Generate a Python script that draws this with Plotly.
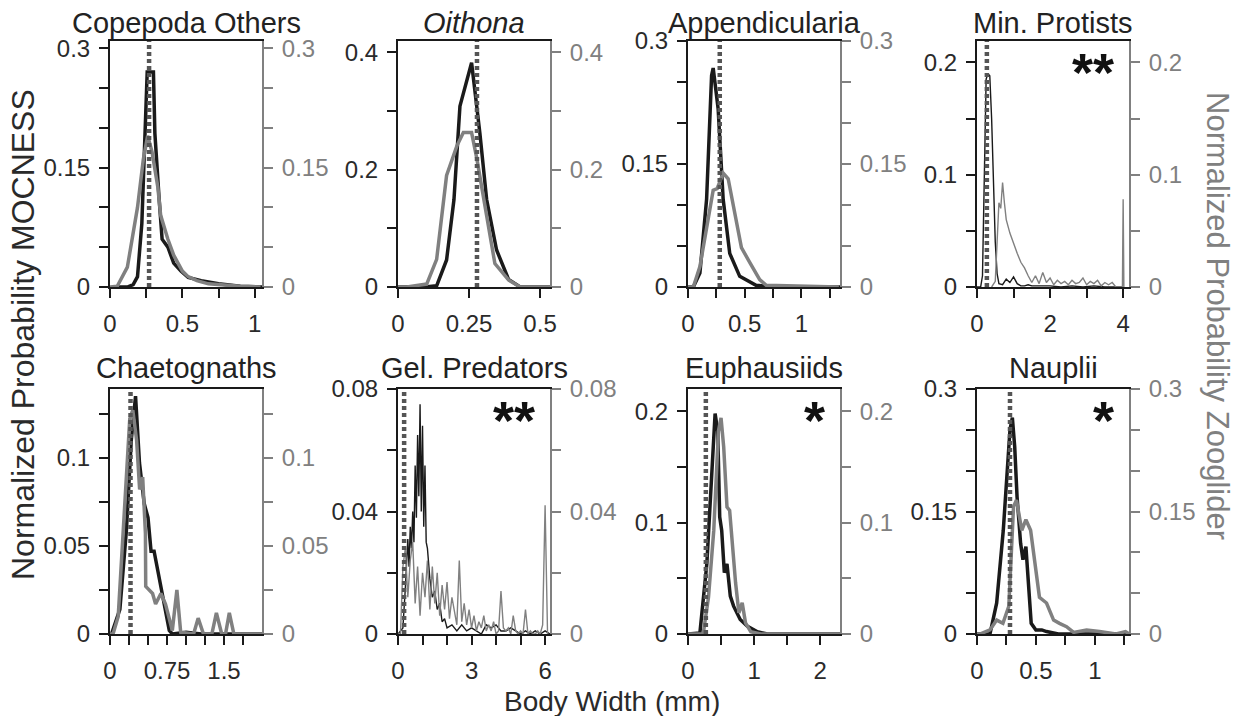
import plotly.graph_objects as go

W, H = 1234, 716
FONT = "Liberation Sans, Arial, sans-serif"
BLACK = "#1a1a1a"
GRAY = "#808080"
DOT = "#555555"

# ---- panel meta ----
titles = ["Copepoda Others", "<i>Oithona</i>", "Appendicularia", "Min. Protists",
          "Chaetognaths", "Gel. Predators", "Euphausiids", "Nauplii"]
stars = ["", "", "", "**", "", "**", "*", "*"]
medians = [0.27, 0.278, 0.28, 0.27, 0.27, 0.25, 0.27, 0.28]
x_max = [1.05, 0.535, 1.34, 4.16, 2.0, 6.2, 2.3, 1.29]
y_max = [0.309, 0.419, 0.3, 0.219, 0.139, 0.08, 0.22, 0.3]
thin = [False, False, False, True, False, True, False, False]

x_tickvals = [[0, 0.25, 0.5, 0.75, 1], [0, 0.25, 0.5], [0, 0.25, 0.5, 0.75, 1, 1.25], [0, 1, 2, 3, 4],
              [0, 0.25, 0.5, 0.75, 1, 1.25, 1.5, 1.75], [0, 1, 2, 3, 4, 5, 6], [0, 0.5, 1, 1.5, 2],
              [0, 0.25, 0.5, 0.75, 1, 1.25]]
x_ticktext = [["0", "", "0.5", "", "1"], ["0", "0.25", "0.5"], ["0", "", "0.5", "", "1", ""], ["0", "", "2", "", "4"],
              ["0", "", "", "0.75", "", "", "1.5", ""], ["0", "", "", "3", "", "", "6"], ["0", "", "1", "", "2"],
              ["0", "", "0.5", "", "1", ""]]
y_tickvals = [[0, 0.05, 0.1, 0.15, 0.2, 0.25, 0.3], [0, 0.1, 0.2, 0.3, 0.4], [0, 0.05, 0.1, 0.15, 0.2, 0.25, 0.3],
              [0, 0.05, 0.1, 0.15, 0.2], [0, 0.025, 0.05, 0.075, 0.1, 0.125], [0, 0.02, 0.04, 0.06, 0.08],
              [0, 0.05, 0.1, 0.15, 0.2], [0, 0.05, 0.1, 0.15, 0.2, 0.25, 0.3]]
y_ticktext = [["0", "", "", "0.15", "", "", "0.3"], ["0", "", "0.2", "", "0.4"], ["0", "", "", "0.15", "", "", "0.3"],
              ["0", "", "0.1", "", "0.2"], ["0", "", "0.05", "", "0.1", ""], ["0", "", "0.04", "", "0.08"],
              ["0", "", "0.1", "", "0.2"], ["0", "", "", "0.15", "", "", "0.3"]]

# ---- series: MOCNESS (black, left axis) and Zooglider (gray, right axis) ----
cope_x_moc = [0.05, 0.12, 0.16, 0.19, 0.22, 0.245, 0.257, 0.3, 0.31, 0.34, 0.36, 0.4, 0.44, 0.49, 0.54, 0.63, 0.75, 0.9, 1.05]
cope_moc = [0, 0, 0.003, 0.013, 0.08, 0.23, 0.27, 0.27, 0.193, 0.109, 0.06, 0.05, 0.03, 0.02, 0.012, 0.008, 0.004, 0.001, 0]
cope_x_zoo = [0.0, 0.05, 0.12, 0.19, 0.23, 0.26, 0.29, 0.33, 0.35, 0.4, 0.44, 0.5, 0.54, 0.6, 0.68, 0.8, 0.9, 1.04]
cope_zoo = [0, 0.001, 0.025, 0.10, 0.16, 0.19, 0.17, 0.126, 0.09, 0.06, 0.04, 0.02, 0.013, 0.008, 0.004, 0.002, 0.001, 0]

oith_x_moc = [0.0, 0.095, 0.136, 0.171, 0.197, 0.218, 0.259, 0.288, 0.312, 0.347, 0.389, 0.43, 0.535]
oith_moc = [0, 0, 0.002, 0.046, 0.149, 0.308, 0.382, 0.263, 0.149, 0.063, 0.013, 0, 0]
oith_x_zoo = [0.0, 0.031, 0.101, 0.136, 0.171, 0.207, 0.23, 0.259, 0.277, 0.306, 0.341, 0.389, 0.43, 0.535]
oith_zoo = [0, 0, 0.005, 0.047, 0.19, 0.24, 0.263, 0.263, 0.22, 0.135, 0.04, 0.012, 0, 0]

app_x_moc = [0.0, 0.047, 0.105, 0.164, 0.208, 0.222, 0.266, 0.31, 0.368, 0.456, 0.6, 0.75, 1.34]
app_moc = [0, 0, 0.017, 0.107, 0.258, 0.267, 0.217, 0.107, 0.041, 0.013, 0.002, 0, 0]
app_x_zoo = [0.0, 0.047, 0.105, 0.178, 0.222, 0.257, 0.31, 0.354, 0.427, 0.471, 0.544, 0.632, 0.69, 1.0, 1.33]
app_zoo = [0, 0, 0.025, 0.086, 0.118, 0.12, 0.139, 0.132, 0.082, 0.048, 0.03, 0.009, 0.002, 0.001, 0]

prot_x_moc = [0, 0.1, 0.15, 0.2, 0.25, 0.3, 0.35, 0.4, 0.45, 0.5, 0.55, 0.6, 0.7, 0.8, 0.9, 1.0, 1.1, 1.2,
              1.3, 1.4, 1.5, 1.7, 2.0, 2.3, 2.6, 2.9, 3.2, 3.5, 3.8, 4.0]
prot_moc = [0, 0, 0.01, 0.09, 0.185, 0.19, 0.188, 0.15, 0.09, 0.04, 0.012, 0.003, 0.002, 0.007, 0.004, 0.009,
            0.003, 0.001, 0.001, 0.002, 0.001, 0.001, 0.001, 0.0, 0.001, 0.0, 0.001, 0.0, 0, 0]
prot_x_zoo = [0.4, 0.5, 0.55, 0.6, 0.65, 0.7, 0.75, 0.8, 0.9, 1.0, 1.1, 1.2, 1.3, 1.4, 1.5, 1.6, 1.7, 1.8, 1.9,
              2.0, 2.1, 2.2, 2.3, 2.4, 2.5, 2.6, 2.7, 2.8, 2.9, 3.0, 3.1, 3.2, 3.3, 3.4, 3.5, 3.6, 3.7, 3.8,
              3.98, 4.0, 4.02]
prot_zoo = [0, 0.005, 0.04, 0.075, 0.07, 0.093, 0.075, 0.06, 0.048, 0.038, 0.03, 0.022, 0.017, 0.01, 0.004,
            0.01, 0.003, 0.013, 0.004, 0.008, 0.002, 0.006, 0.003, 0.005, 0.002, 0.006, 0.003, 0.004, 0.008,
            0.002, 0.005, 0.003, 0.006, 0.001, 0.004, 0.002, 0.004, 0, 0, 0.078, 0]

chae_x_moc = [0.0, 0.02, 0.13, 0.216, 0.28, 0.336, 0.388, 0.45, 0.5, 0.54, 0.58, 0.65, 0.71, 0.78, 0.82,
              1.0, 1.2, 1.5, 2.0]
chae_moc = [0, 0, 0.014, 0.059, 0.11, 0.135, 0.097, 0.074, 0.066, 0.047, 0.047, 0.031, 0.017, 0.002, 0,
            0.001, 0, 0, 0]
chae_x_zoo = [0.0, 0.04, 0.108, 0.19, 0.26, 0.3, 0.35, 0.39, 0.43, 0.466, 0.47, 0.56, 0.6, 0.67, 0.73, 0.82,
              0.88, 0.93, 1.1, 1.16, 1.23, 1.34, 1.4, 1.47, 1.52, 1.57, 1.63, 2.0]
chae_zoo = [0, 0, 0.01, 0.067, 0.122, 0.127, 0.11, 0.082, 0.089, 0.057, 0.027, 0.023, 0.017, 0.023, 0.017,
            0.002, 0.025, 0.001, 0, 0.009, 0, 0, 0.012, 0, 0, 0.012, 0, 0]

gel_x_moc = [0, 0.2, 0.3, 0.4, 0.45, 0.5, 0.55, 0.6, 0.65, 0.7, 0.75, 0.8, 0.85, 0.9, 0.95, 1.0, 1.05, 1.1,
             1.15, 1.2, 1.3, 1.4, 1.5, 1.6, 1.7, 1.8, 1.9, 2.0, 2.2, 2.4, 2.6, 2.8, 3.0, 3.2, 3.4, 3.6, 3.8,
             4.0, 4.2, 4.4, 4.6, 4.8, 5.0, 5.2, 5.4, 5.6, 5.8, 6.0, 6.2]
gel_moc = [0, 0.002, 0.015, 0.031, 0.022, 0.035, 0.028, 0.040, 0.030, 0.055, 0.038, 0.065, 0.045, 0.075,
           0.040, 0.068, 0.035, 0.055, 0.030, 0.028, 0.018, 0.012, 0.014, 0.008, 0.010, 0.004, 0.005, 0.002,
           0.003, 0.001, 0.003, 0.001, 0.002, 0.001, 0.000, 0.003, 0.002, 0.003, 0.001, 0.001, 0.002, 0.001,
           0.000, 0.001, 0.000, 0.001, 0.000, 0.001, 0]
gel_x_zoo = [0.0, 0.1, 0.2, 0.3, 0.4, 0.5, 0.6, 0.7, 0.8, 0.9, 1.0, 1.1, 1.2, 1.3, 1.4, 1.5, 1.6, 1.7, 1.8,
             1.9, 2.0, 2.1, 2.2, 2.3, 2.4, 2.5, 2.6, 2.7, 2.8, 2.9, 3.0, 3.1, 3.2, 3.3, 3.4, 3.5, 3.6, 3.7,
             3.8, 3.9, 4.0, 4.1, 4.2, 4.3, 4.4, 4.5, 4.6, 4.7, 4.8, 4.9, 5.0, 5.1, 5.2, 5.3, 5.4, 5.5, 5.6,
             5.7, 5.8, 5.9, 6.0, 6.1]
gel_zoo = [0, 0, 0.022, 0.028, 0.012, 0.024, 0.030, 0.010, 0.022, 0.006, 0.020, 0.012, 0.024, 0.008, 0.022,
           0.010, 0.020, 0.006, 0.016, 0.008, 0.017, 0.005, 0.012, 0.008, 0.003, 0.024, 0.004, 0.010, 0.003,
           0.008, 0.002, 0.006, 0.001, 0.004, 0.002, 0.006, 0.001, 0.003, 0.001, 0.004, 0.000, 0.001, 0.014,
           0.002, 0.001, 0.002, 0.000, 0.006, 0.001, 0.000, 0.001, 0.000, 0.008, 0.000, 0.001, 0.000, 0.000,
           0.001, 0.000, 0.003, 0.042, 0.000]

euph_x_moc = [0.0, 0.18, 0.285, 0.36, 0.41, 0.45, 0.48, 0.51, 0.55, 0.59, 0.64, 0.69, 0.79, 0.9, 1.05, 1.2, 2.3]
euph_moc = [0, 0.001, 0.063, 0.152, 0.198, 0.182, 0.105, 0.093, 0.055, 0.063, 0.034, 0.025, 0.013, 0.007,
            0.002, 0, 0]
euph_x_zoo = [0.0, 0.23, 0.31, 0.39, 0.46, 0.5, 0.54, 0.59, 0.63, 0.67, 0.72, 0.77, 0.82, 0.87, 0.95, 1.1, 2.3]
euph_zoo = [0, 0, 0.033, 0.093, 0.182, 0.194, 0.168, 0.114, 0.111, 0.079, 0.046, 0.019, 0.028, 0.01, 0.002, 0, 0]

naup_x_moc = [0.0, 0.11, 0.167, 0.223, 0.28, 0.3, 0.32, 0.34, 0.37, 0.39, 0.415, 0.435, 0.46, 0.5, 0.55, 0.59,
              0.69, 1.29]
naup_moc = [0, 0, 0.038, 0.127, 0.25, 0.265, 0.229, 0.168, 0.111, 0.091, 0.107, 0.062, 0.013, 0.005, 0.005,
            0.003, 0, 0]
naup_x_zoo = [0.0, 0.025, 0.11, 0.167, 0.22, 0.27, 0.31, 0.335, 0.38, 0.415, 0.455, 0.49, 0.53, 0.59, 0.65,
              0.7, 0.76, 0.82, 0.93, 1.04, 1.18, 1.26, 1.29]
naup_zoo = [0, 0, 0.005, 0.017, 0.013, 0.034, 0.156, 0.164, 0.127, 0.14, 0.127, 0.087, 0.045, 0.038, 0.017,
            0.013, 0.009, 0.002, 0.005, 0.003, 0, 0.003, 0]

moc_series = [(cope_x_moc, cope_moc), (oith_x_moc, oith_moc), (app_x_moc, app_moc), (prot_x_moc, prot_moc),
              (chae_x_moc, chae_moc), (gel_x_moc, gel_moc), (euph_x_moc, euph_moc), (naup_x_moc, naup_moc)]
zoo_series = [(cope_x_zoo, cope_zoo), (oith_x_zoo, oith_zoo), (app_x_zoo, app_zoo), (prot_x_zoo, prot_zoo),
              (chae_x_zoo, chae_zoo), (gel_x_zoo, gel_zoo), (euph_x_zoo, euph_zoo), (naup_x_zoo, naup_zoo)]

# panel boxes in pixels
cols = [(110, 262), (398, 550), (688, 840), (977, 1129)]
rows = [(41, 287), (389, 634)]
title_y = [23, 368]

fig = go.Figure()
layout = dict(width=W, height=H, margin=dict(l=0, r=0, t=0, b=0, autoexpand=False), showlegend=False,
              paper_bgcolor="white", plot_bgcolor="white", font=dict(family=FONT, color=BLACK))
annotations = []
shapes = []

for i in range(8):
    n = i + 1
    r, c = divmod(i, 4)
    xk = "x" if n == 1 else "x%d" % n
    yl = "y" if n == 1 else "y%d" % (2 * n - 1)
    yr = "y%d" % (2 * n)
    lw = 1.4 if thin[i] else 3.5
    fig.add_trace(go.Scatter(x=moc_series[i][0], y=moc_series[i][1], mode="lines", xaxis=xk, yaxis=yl,
                             line=dict(color=BLACK, width=lw)))
    fig.add_trace(go.Scatter(x=zoo_series[i][0], y=zoo_series[i][1], mode="lines", xaxis=xk, yaxis=yr,
                             line=dict(color=GRAY, width=lw)))
    x0, x1 = cols[c]
    t0, t1 = rows[r]
    xd = [x0 / W, x1 / W]
    yd = [(H - t1) / H, (H - t0) / H]
    layout["xaxis" if n == 1 else "xaxis%d" % n] = dict(
        domain=xd, anchor=yl, range=[0, x_max[i]], tickvals=x_tickvals[i], ticktext=x_ticktext[i],
        ticks="outside", ticklen=9, tickwidth=2, tickcolor=BLACK, showline=True, linecolor=BLACK,
        linewidth=2, mirror=True, showgrid=False, zeroline=False, ticklabelstandoff=5, automargin=False,
        tickfont=dict(size=24, color="#2a2a2a"))
    layout["yaxis" if n == 1 else "yaxis%d" % (2 * n - 1)] = dict(
        domain=yd, anchor=xk, range=[0, y_max[i]], tickvals=y_tickvals[i], ticktext=y_ticktext[i],
        ticks="outside", ticklen=9, tickwidth=2, tickcolor=BLACK, showline=True, linecolor=BLACK,
        linewidth=2, showgrid=False, zeroline=False, ticklabelstandoff=4, automargin=False,
        tickfont=dict(size=24, color="#2a2a2a"))
    layout["yaxis%d" % (2 * n)] = dict(
        overlaying=yl, side="right", anchor=xk, range=[0, y_max[i]], tickvals=y_tickvals[i],
        ticktext=y_ticktext[i], ticks="outside", ticklen=9, tickwidth=2, tickcolor=GRAY, showline=True,
        linecolor=GRAY, linewidth=2, showgrid=False, zeroline=False, ticklabelstandoff=4, automargin=False,
        tickfont=dict(size=24, color=GRAY))
    shapes.append(dict(type="line", xref=xk, yref=yl + " domain", x0=medians[i], x1=medians[i], y0=0, y1=1,
                       line=dict(color=DOT, width=4.5, dash="4px,3px"), layer="above"))
    annotations.append(dict(text=titles[i], xref="paper", yref="paper", x=(x0 + x1) / 2 / W,
                            y=(H - title_y[r]) / H, xanchor="center", yanchor="middle", showarrow=False,
                            font=dict(size=29, color="#222222")))
    if stars[i]:
        annotations.append(dict(text="<b>%s</b>" % stars[i], xref=xk + " domain", yref=yl + " domain",
                                x=1, y=1, xanchor="right", yanchor="top", xshift=-13, yshift=1,
                                showarrow=False, font=dict(size=54, color="#111111")))

annotations.append(dict(text="Normalized Probability MOCNESS", xref="paper", yref="paper", x=23 / W,
                        y=(H - 335) / H, textangle=-90, xanchor="center", yanchor="middle", showarrow=False,
                        font=dict(size=32, color="#2a2a2a")))
annotations.append(dict(text="Normalized Probability Zooglider", xref="paper", yref="paper", x=1218 / W,
                        y=(H - 316) / H, textangle=90, xanchor="center", yanchor="middle", showarrow=False,
                        font=dict(size=31, color=GRAY)))
annotations.append(dict(text="Body Width (mm)", xref="paper", yref="paper", x=612 / W, y=(H - 701) / H,
                        xanchor="center", yanchor="middle", showarrow=False,
                        font=dict(size=28, color="#2a2a2a")))

layout["annotations"] = annotations
layout["shapes"] = shapes
fig.update_layout(**layout)
# the page body has a default 8px margin; drop it so the figure sits at the window origin
fig.write_html("out.html", config={"displayModeBar": False},
               post_script="document.body.style.margin='0';")
